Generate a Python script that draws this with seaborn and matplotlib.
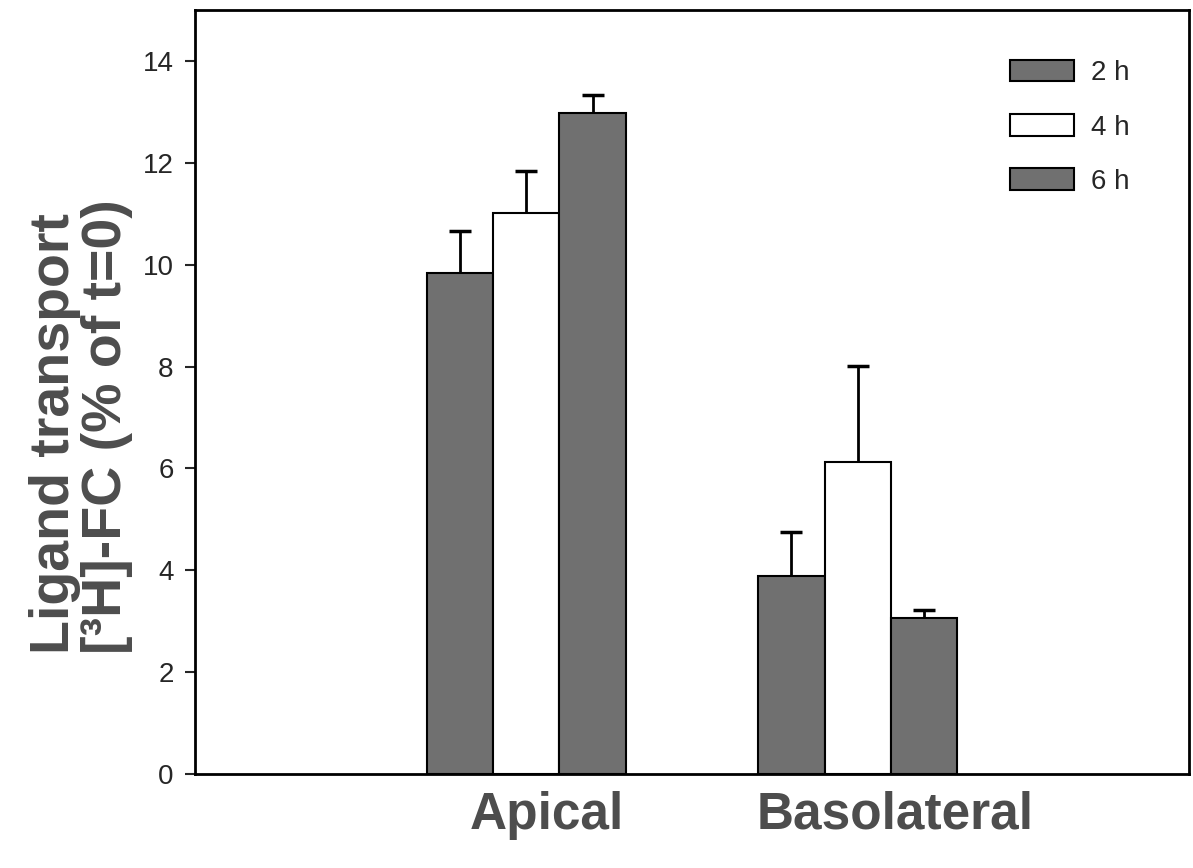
import pandas as pd
import seaborn as sns
import matplotlib.pyplot as plt
import matplotlib.patches as mpatches
from matplotlib.transforms import ScaledTranslation

# values
sides = ['Apical', 'Basolateral']
times = ['2 h', '4 h', '6 h']
mean_2h = [9.84, 3.89]
mean_4h = [11.01, 6.13]
mean_6h = [12.97, 3.07]
err_2h = [0.83, 0.86]
err_4h = [0.82, 1.89]
err_6h = [0.37, 0.15]

means = {'2 h': mean_2h, '4 h': mean_4h, '6 h': mean_6h}
errs = {'2 h': err_2h, '4 h': err_4h, '6 h': err_6h}

rows = []
for t in times:
    for i, s in enumerate(sides):
        rows.append({'side': s, 'time': t, 'value': means[t][i]})
df = pd.DataFrame(rows)

sns.set_style('white')
plt.rcParams['font.family'] = ['Liberation Sans', 'DejaVu Sans']

gray = '#707070'
palette = {'2 h': gray, '4 h': 'white', '6 h': gray}

fig = plt.figure(figsize=(11.93, 8.68), dpi=100)
ax = fig.add_axes([0.1635, 0.1083, 0.8331, 0.8802])

sns.barplot(data=df, x='side', y='value', hue='time', order=sides, hue_order=times,
            palette=palette, width=0.6, errorbar=None, edgecolor='black', linewidth=1.5,
            saturation=1, legend=False, ax=ax)

# one-sided (upper) error bars on each bar
for t, cont in zip(times, ax.containers):
    xs = [p.get_x() + p.get_width() / 2 for p in cont.patches]
    hs = [p.get_height() for p in cont.patches]
    eb = ax.errorbar(xs, hs, yerr=[[0] * len(hs), errs[t]], fmt='none', ecolor='black',
                     elinewidth=2, capsize=8, capthick=2.5, zorder=3)
    eb[1][0].set_visible(False)  # hide the lower cap

ax.set_xlim(-1, 2)
ax.set_ylim(0, 15)
ax.set_yticks(range(0, 15, 2))

for sp in ax.spines.values():
    sp.set_visible(True)
    sp.set_color('black')
    sp.set_linewidth(2)

ax.tick_params(axis='y', which='both', left=True, direction='out', length=7.5, width=1.5,
               labelsize=20, pad=8)
ax.tick_params(axis='x', length=0, pad=12)
shifts = [0.2, 0.37]
for lab, dx in zip(ax.get_xticklabels(), shifts):
    lab.set_fontsize(37)
    lab.set_fontweight('bold')
    lab.set_color('#4d4d4d')
    lab.set_transform(lab.get_transform() + ScaledTranslation(dx, 0, fig.dpi_scale_trans))

ax.set_xlabel('')
ax.set_ylabel('Ligand transport\n[³H]-FC (% of t=0)', fontsize=40, fontweight='bold',
              color='#4d4d4d', linespacing=1.0, multialignment='left')
ax.yaxis.set_label_coords(-0.062, 0.455)

handles = [mpatches.Patch(facecolor=palette[t], edgecolor='black', linewidth=1.5, label=t)
           for t in times]
ax.legend(handles=handles, loc='upper right', frameon=False, fontsize=20,
          handlelength=2.3, handleheight=0.8, labelspacing=1.0, handletextpad=0.6,
          bbox_to_anchor=(0.965, 0.967))

plt.savefig('out.png', dpi=100)
plt.close()
